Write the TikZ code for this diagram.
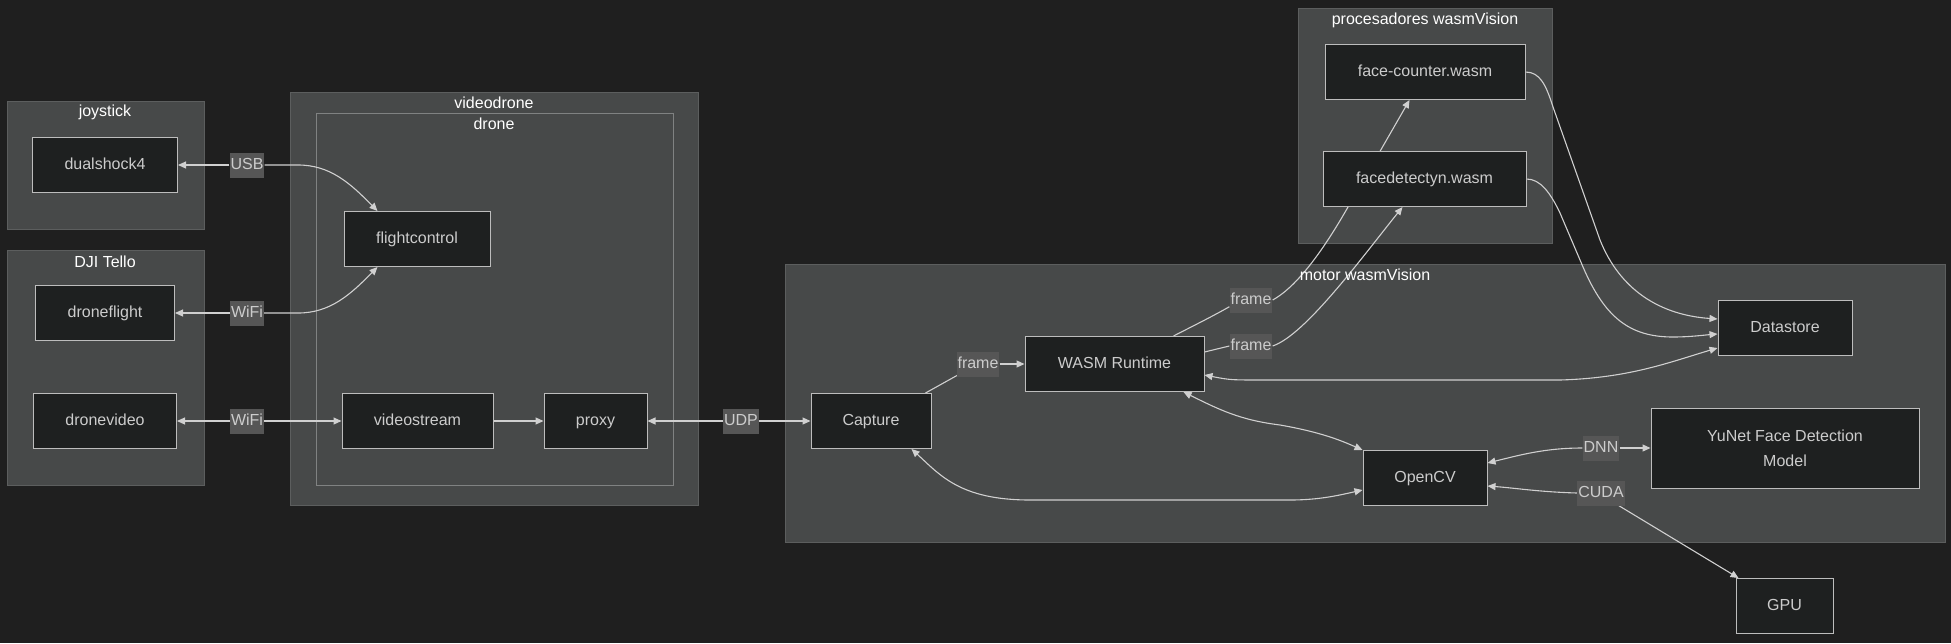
\documentclass[tikz,border=0pt]{standalone}
\usepackage{fontspec}
\setmainfont{Liberation Sans}
\usetikzlibrary{arrows.meta,calc,positioning}
\definecolor{bgc}{HTML}{1F1F1F}
\definecolor{clfill}{HTML}{474949}
\definecolor{cldraw}{HTML}{5C5E5E}
\definecolor{clinner}{HTML}{808282}
\definecolor{nfill}{HTML}{1E2020}
\definecolor{ndraw}{HTML}{BDBDBD}
\definecolor{ntext}{HTML}{CCCCCC}
\definecolor{lblfill}{HTML}{565656}
\definecolor{edgec}{HTML}{D0D0D0}
\pgfdeclarelayer{bg}
\pgfdeclarelayer{edges}
\pgfsetlayers{bg,edges,main}
\tikzset{
  box/.style={draw=ndraw, fill=nfill, text=ntext, line width=1pt, inner sep=0pt,
    text height=11.5pt, text depth=3.5pt,
    font=\fontsize{16}{19}\selectfont},
  cluster/.style={draw=cldraw, fill=clfill, line width=1pt},
  innercluster/.style={draw=clinner, fill=clfill, line width=1pt},
  ctitle/.style={text=white, font=\fontsize{16}{19}\selectfont, inner sep=0pt},
  lbl/.style={fill=lblfill, text=ntext, inner xsep=1pt, inner ysep=5pt, text height=11.5pt, text depth=3.5pt,
    font=\fontsize{16}{19}\selectfont},
  edge/.style={draw=edgec, line width=1.1pt},
  arr/.style={edge, -{Triangle[length=8pt,width=7pt]}},
  biarr/.style={edge, {Triangle[length=8pt,width=7pt]}-{Triangle[length=8pt,width=7pt]}},
}
\begin{document}
\begin{tikzpicture}[x=1pt,y=-1pt]
\useasboundingbox (0,0) rectangle (1951,643);

% clusters
\begin{pgfonlayer}{bg}
\fill[bgc] (0,0) rectangle (1951,643);
\draw[cluster] (7,101) rectangle (204,229);
\draw[cluster] (7,250) rectangle (204,485);
\draw[cluster] (290,92) rectangle (698,505);
\draw[innercluster] (316,113) rectangle (673,485);
\draw[cluster] (1298,8) rectangle (1552,243);
\draw[cluster] (785,264) rectangle (1945,542);
\end{pgfonlayer}
\node[ctitle] (tjoy) at (105,112) {joystick};
\node[ctitle] (tdji) at (105,262) {DJI Tello};
\node[ctitle] (tvd) at (494,103) {videodrone};
\node[ctitle] (tdrone) at (494,124) {drone};
\node[ctitle] (tproc) at (1425,20) {procesadores wasmVision};
\node[ctitle] (tmotor) at (1365,275) {motor wasmVision};

% nodes
\node[box, minimum width=145pt, minimum height=55pt] (ds4) at (105,165) {dualshock4};
\node[box, minimum width=139pt, minimum height=55pt] (dflight) at (105,313) {droneflight};
\node[box, minimum width=143pt, minimum height=55pt] (dvideo) at (105,421) {dronevideo};
\node[box, minimum width=146pt, minimum height=55pt] (fc) at (417,239) {flightcontrol};
\node[box, minimum width=151pt, minimum height=55pt] (vs) at (417.5,421) {videostream};
\node[box, minimum width=103pt, minimum height=55pt] (proxy) at (595.5,421) {proxy};
\node[box, minimum width=120pt, minimum height=55pt] (cap) at (871,421) {Capture};
\node[box, minimum width=179pt, minimum height=55pt] (wasm) at (1114.5,364) {WASM Runtime};
\node[box, minimum width=200pt, minimum height=55pt] (fcw) at (1425,72) {face-counter.wasm};
\node[box, minimum width=203pt, minimum height=55pt] (fdw) at (1424.5,179) {facedetectyn.wasm};
\node[box, minimum width=134pt, minimum height=55pt] (ds) at (1785,328) {Datastore};
\node[box, minimum width=268pt, minimum height=80pt, align=center, text height=, text depth=,
  font=\fontsize{16}{25}\selectfont] (yunet) at (1785,448) {YuNet Face Detection\\Model};
\node[box, minimum width=124pt, minimum height=55pt] (cv) at (1425,478) {OpenCV};
\node[box, minimum width=97pt, minimum height=55pt] (gpu) at (1784.5,606) {GPU};

% edge labels
\node[lbl] (usb) at (247,165) {USB};
\node[lbl] (wifi1) at (247,313) {WiFi};
\node[lbl] (wifi2) at (247,421) {WiFi};
\node[lbl] (udp) at (741,421) {UDP};
\node[lbl] (fr0) at (978,364) {frame};
\node[lbl] (fr1) at (1251,300) {frame};
\node[lbl] (fr2) at (1251,346) {frame};
\node[lbl] (dnn) at (1601,448) {DNN};
\node[lbl] (cuda) at (1601,493) {CUDA};

\begin{pgfonlayer}{edges}
% joystick / tello
\draw[arr] (usb.west) -- (ds4.east);
\draw[arr] (usb.east) -- (298,165) .. controls (330,165) and (350,183) .. ($(fc.north west)+(34,0)$);
\draw[arr] (wifi1.west) -- (dflight.east);
\draw[arr] (wifi1.east) -- (298,313) .. controls (330,313) and (350,295) .. ($(fc.south west)+(34,0)$);
\draw[arr] (wifi2.west) -- (dvideo.east);
\draw[arr] (wifi2.east) -- (vs.west);
\draw[arr] (vs.east) -- (proxy.west);
\draw[arr] (udp.west) -- (proxy.east);
\draw[arr] (udp.east) -- (cap.west);
% capture -> wasm
\draw[edge] ($(cap.north east)+(-6,0)$) -- ($(fr0.south west)+(2,-2)$);
\draw[arr] (fr0.east) -- (wasm.west);
% wasm -> face-counter
\draw[edge] ($(wasm.north east)+(-31,0)$) .. controls (1195,325) and (1215,315) .. ($(fr1.south west)+(0,-6)$);
\draw[arr] (fr1.east) .. controls (1300,285) and (1328,242) .. (1348,207) -- ($(fcw.south west)+(85,0)$);
% wasm -> facedetectyn
\draw[edge] ($(wasm.east)+(0,-12)$) -- (fr2.west);
\draw[arr] (fr2.east) .. controls (1305,335) and (1360,260) .. ($(fdw.south west)+(80,0)$);
% processors -> datastore
\draw[arr] (fcw.east) .. controls (1540,72) and (1546,85) .. (1553,107) -- (1600,240)
  .. controls (1620,290) and (1660,315) .. ($(ds.west)+(0,-9)$);
\draw[arr] (fdw.east) .. controls (1540,179) and (1550,192) .. (1560,213) -- (1583,267)
  .. controls (1605,318) and (1630,337) .. (1673,337) .. controls (1690,337) and (1705,335) .. ($(ds.west)+(0,6)$);
% wasm <-> datastore
\draw[biarr] ($(wasm.east)+(0,11)$) .. controls (1230,380) .. (1265,380) -- (1560,380)
  .. controls (1630,378) and (1670,362) .. ($(ds.west)+(0,20)$);
% wasm <-> opencv
\draw[biarr] ($(wasm.south east)+(-21,0)$) .. controls (1220,410) and (1240,420) .. (1280,425)
  .. controls (1320,432) and (1340,440) .. (cv.north west);
% capture <-> opencv
\draw[biarr] ($(cap.south east)+(-20,0)$) .. controls (940,475) and (960,500) .. (1030,500) -- (1290,500)
  .. controls (1320,500) and (1340,495) .. ($(cv.west)+(0,12)$);
% opencv <-> yunet
\draw[arr] (dnn.west) .. controls (1545,448) and (1520,455) .. ($(cv.east)+(0,-15)$);
\draw[arr] (dnn.east) -- (yunet.west);
% opencv <-> gpu
\draw[arr] (cuda.west) .. controls (1540,492) and (1515,488) .. ($(cv.east)+(0,8)$);
\draw[arr] ($(cuda.south east)+(-6,0)$) -- ($(gpu.north west)+(3,0)$);
\end{pgfonlayer}
\end{tikzpicture}
\end{document}
